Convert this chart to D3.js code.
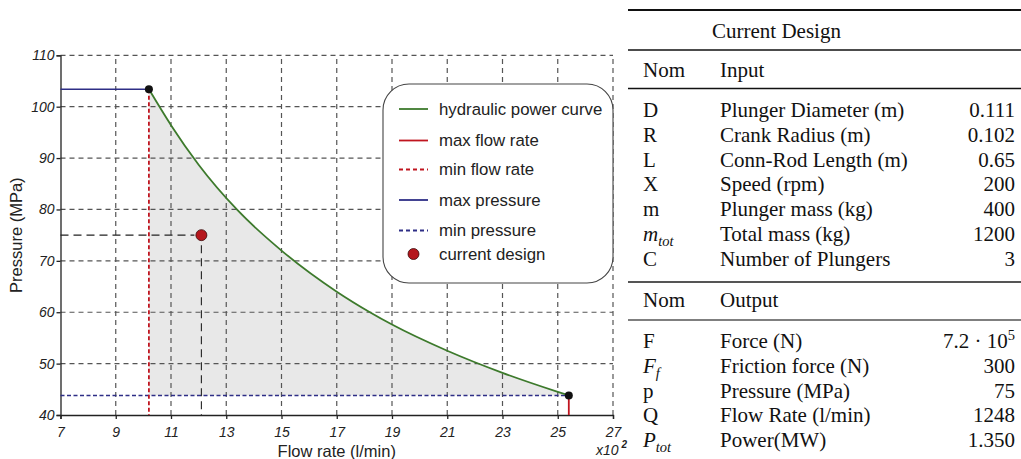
<!DOCTYPE html>
<html>
<head>
<meta charset="utf-8">
<script src="https://cdn.jsdelivr.net/npm/d3@7"></script>
<style>
  body { margin: 0; background: #fff; }
  svg { display: block; }
</style>
</head>
<body>
<svg id="chart" width="1021" height="459"></svg>
<script>
// ---- data (flow in l/min x100, pressure in MPa)
var xTicks = [7, 9, 11, 13, 15, 17, 19, 21, 23, 25, 27];
var yTicks = [40, 50, 60, 70, 80, 90, 100, 110];

var powerCurve = [
  [10.2, 103.4], [11, 96.4], [12, 88.7], [13.4, 79.9], [15, 72],
  [17, 64], [18.2, 60], [19, 57.6], [21, 52.5], [23, 48.2],
  [25, 44.5], [25.4, 43.8]
];
var minFlow = 10.2, maxFlow = 25.4;
var maxPressure = 103.4, minPressure = 43.8;
var design = [12.1, 75];

var legendItems = [
  {label: "hydraulic power curve", kind: "line", color: "#3d7a2c", dash: null},
  {label: "max flow rate", kind: "line", color: "#c0151f", dash: null},
  {label: "min flow rate", kind: "line", color: "#c0151f", dash: "4,3"},
  {label: "max pressure", kind: "line", color: "#2e2e86", dash: null},
  {label: "min pressure", kind: "line", color: "#2e2e86", dash: "4,3"},
  {label: "current design", kind: "dot", color: "#b5161c", dash: null}
];

var tableTitle = "Current Design";
var inputHead = ["Nom", "Input"];
var inputRows = [
  {nom: "D", label: "Plunger Diameter (m)", value: "0.111"},
  {nom: "R", label: "Crank Radius (m)", value: "0.102"},
  {nom: "L", label: "Conn-Rod Length (m)", value: "0.65"},
  {nom: "X", label: "Speed (rpm)", value: "200"},
  {nom: "m", label: "Plunger mass (kg)", value: "400"},
  {nom: "m", sub: "tot", it: true, label: "Total mass (kg)", value: "1200"},
  {nom: "C", label: "Number of Plungers", value: "3"}
];
var outputHead = ["Nom", "Output"];
var outputRows = [
  {nom: "F", label: "Force (N)", value: "7.2 · 10", sup: "5"},
  {nom: "F", sub: "f", it: true, label: "Friction force (N)", value: "300"},
  {nom: "p", label: "Pressure (MPa)", value: "75"},
  {nom: "Q", label: "Flow Rate (l/min)", value: "1248"},
  {nom: "P", sub: "tot", it: true, label: "Power(MW)", value: "1.350"}
];

// ---- chart
var svg = d3.select("#chart");
var sans = "'Liberation Sans', Arial, sans-serif";
var serif = "'Liberation Serif', 'Times New Roman', serif";

var x = d3.scaleLinear().domain([7, 27]).range([60.5, 613]);
var y = d3.scaleLinear().domain([40, 110]).range([415, 55.3]);

var g = svg.append("g");

// shaded feasible region
var area = d3.area()
  .x(d => x(d[0]))
  .y0(y(minPressure))
  .y1(d => y(d[1]))
  .curve(d3.curveMonotoneX);
g.append("path")
  .datum(powerCurve)
  .attr("d", area)
  .attr("fill", "#e8e8e8");

// grid
g.selectAll("line.gx").data(xTicks.slice(1)).join("line")
  .attr("class", "gx")
  .attr("x1", d => x(d)).attr("x2", d => x(d))
  .attr("y1", y(40)).attr("y2", y(110))
  .attr("stroke", "#555").attr("stroke-width", 1.2)
  .attr("stroke-dasharray", "5,4");
g.selectAll("line.gy").data(yTicks.slice(1)).join("line")
  .attr("class", "gy")
  .attr("x1", x(7)).attr("x2", x(27))
  .attr("y1", d => y(d)).attr("y2", d => y(d))
  .attr("stroke", "#555").attr("stroke-width", 1.2)
  .attr("stroke-dasharray", "5,4");

// axes
var xAxis = g.append("g")
  .attr("transform", `translate(0,${y(40)})`)
  .call(d3.axisBottom(x).tickValues(xTicks).tickSize(4).tickFormat(d3.format("d")));
var yAxis = g.append("g")
  .attr("transform", `translate(${x(7)},0)`)
  .call(d3.axisLeft(y).tickValues(yTicks).tickSize(4).tickFormat(d3.format("d")));
[xAxis, yAxis].forEach(a => {
  a.select(".domain").attr("stroke", "#222").attr("stroke-width", 1.3);
  a.selectAll(".tick line").attr("stroke", "#222").attr("stroke-width", 1.3);
  a.selectAll("text")
    .style("font-family", sans).style("font-style", "italic")
    .style("font-size", "14px").attr("fill", "#222");
});
xAxis.selectAll("text").attr("dy", "1.1em");
yAxis.selectAll("text").attr("x", -6);

// limits
g.append("line")
  .attr("x1", x(7)).attr("x2", x(minFlow))
  .attr("y1", y(maxPressure)).attr("y2", y(maxPressure))
  .attr("stroke", "#2e2e86").attr("stroke-width", 1.5);
g.append("line")
  .attr("x1", x(7)).attr("x2", x(maxFlow))
  .attr("y1", y(minPressure)).attr("y2", y(minPressure))
  .attr("stroke", "#2e2e86").attr("stroke-width", 1.5)
  .attr("stroke-dasharray", "4,2.5");
g.append("line")
  .attr("x1", x(minFlow)).attr("x2", x(minFlow))
  .attr("y1", y(maxPressure)).attr("y2", y(40))
  .attr("stroke", "#c0151f").attr("stroke-width", 1.8)
  .attr("stroke-dasharray", "4,2.5");
g.append("line")
  .attr("x1", x(maxFlow)).attr("x2", x(maxFlow))
  .attr("y1", y(minPressure)).attr("y2", y(40))
  .attr("stroke", "#c0151f").attr("stroke-width", 1.8);

// power curve
var line = d3.line()
  .x(d => x(d[0]))
  .y(d => y(d[1]))
  .curve(d3.curveMonotoneX);
g.append("path")
  .datum(powerCurve)
  .attr("d", line)
  .attr("fill", "none")
  .attr("stroke", "#3d7a2c").attr("stroke-width", 1.8);

// corner points
g.selectAll("circle.corner")
  .data([[minFlow, maxPressure], [maxFlow, minPressure]])
  .join("circle")
  .attr("class", "corner")
  .attr("cx", d => x(d[0])).attr("cy", d => y(d[1]))
  .attr("r", 4).attr("fill", "#111");

// current design
g.append("line")
  .attr("x1", x(7)).attr("x2", x(design[0]) - 7)
  .attr("y1", y(design[1])).attr("y2", y(design[1]))
  .attr("stroke", "#222").attr("stroke-width", 1.1)
  .attr("stroke-dasharray", "8,5");
g.append("line")
  .attr("x1", x(design[0])).attr("x2", x(design[0]))
  .attr("y1", y(design[1]) + 10).attr("y2", y(40))
  .attr("stroke", "#222").attr("stroke-width", 1.1)
  .attr("stroke-dasharray", "8,5");
g.append("circle")
  .attr("cx", x(design[0])).attr("cy", y(design[1]))
  .attr("r", 5.5).attr("fill", "#b5161c")
  .attr("stroke", "#3a0a0a").attr("stroke-width", 0.8);

// axis titles
g.append("text")
  .attr("transform", `translate(22,${(y(40) + y(110)) / 2}) rotate(-90)`)
  .attr("text-anchor", "middle")
  .style("font-family", sans).style("font-size", "16.5px")
  .attr("fill", "#222")
  .text("Pressure (MPa)");
g.append("text")
  .attr("x", (x(7) + x(27)) / 2).attr("y", 457)
  .attr("text-anchor", "middle")
  .style("font-family", sans).style("font-size", "16.5px")
  .attr("fill", "#222")
  .text("Flow rate (l/min)");
var mult = g.append("text")
  .attr("x", 596).attr("y", 455)
  .style("font-family", sans).style("font-style", "italic")
  .style("font-size", "14px").attr("fill", "#222");
mult.append("tspan").text("x10");
mult.append("tspan").attr("dx", 3).attr("dy", -7)
  .style("font-size", "10px").style("font-weight", "bold").text("2");

// legend
var leg = g.append("g");
leg.append("rect")
  .attr("x", 383).attr("y", 84).attr("width", 230).attr("height", 199)
  .attr("rx", 26).attr("ry", 26)
  .attr("fill", "#fff").attr("stroke", "#444").attr("stroke-width", 1.1);
var legY = [109, 140.5, 169.5, 200, 230.5, 254];
legendItems.forEach((d, i) => {
  var row = leg.append("g").attr("transform", `translate(0,${legY[i]})`);
  if (d.kind === "line") {
    row.append("line")
      .attr("x1", 399).attr("x2", 428).attr("y1", 0).attr("y2", 0)
      .attr("stroke", d.color).attr("stroke-width", 1.8)
      .attr("stroke-dasharray", d.dash);
  } else {
    row.append("circle")
      .attr("cx", 413.5).attr("cy", 0).attr("r", 5.5)
      .attr("fill", d.color).attr("stroke", "#3a0a0a").attr("stroke-width", 0.8);
  }
  row.append("text")
    .attr("x", 439).attr("y", 0).attr("dy", "0.35em")
    .style("font-family", sans).style("font-size", "16.8px")
    .attr("fill", "#222")
    .text(d.label);
});

// ---- table
var tb = svg.append("g")
  .style("font-family", serif).style("font-size", "21px").attr("fill", "#111");
var colNom = 643, colLabel = 720, colVal = 1015, tL = 628, tR = 1021;

function rule(yy, w, c) {
  tb.append("line").attr("x1", tL).attr("x2", tR)
    .attr("y1", yy).attr("y2", yy)
    .attr("stroke", c || "#111").attr("stroke-width", w);
}
function nomText(d, yy) {
  var t = tb.append("text").attr("x", colNom).attr("y", yy);
  t.append("tspan").style("font-style", d.it ? "italic" : "normal").text(d.nom);
  if (d.sub) {
    t.append("tspan").attr("dy", 5).style("font-style", "italic")
      .style("font-size", "14.5px").text(d.sub);
  }
}
function valText(d, yy) {
  var t = tb.append("text").attr("x", colVal).attr("y", yy).attr("text-anchor", "end");
  t.append("tspan").text(d.value);
  if (d.sup) t.append("tspan").attr("dy", -8).style("font-size", "14.5px").text(d.sup);
}

rule(10, 2.2);
tb.append("text").attr("x", 712).attr("y", 38).text(tableTitle);
rule(50, 1.4);
tb.append("text").attr("x", colNom).attr("y", 77).text(inputHead[0]);
tb.append("text").attr("x", colLabel).attr("y", 77).text(inputHead[1]);
rule(88.5, 1.4);
inputRows.forEach((d, i) => {
  var yy = 117 + i * 24.8;
  nomText(d, yy);
  tb.append("text").attr("x", colLabel).attr("y", yy).text(d.label);
  valText(d, yy);
});
rule(282, 2, "#555");
tb.append("text").attr("x", colNom).attr("y", 307).text(outputHead[0]);
tb.append("text").attr("x", colLabel).attr("y", 307).text(outputHead[1]);
rule(320, 1.4, "#555");
outputRows.forEach((d, i) => {
  var yy = 348 + i * 24.8;
  nomText(d, yy);
  tb.append("text").attr("x", colLabel).attr("y", yy).text(d.label);
  valText(d, yy);
});
</script>
</body>
</html>
